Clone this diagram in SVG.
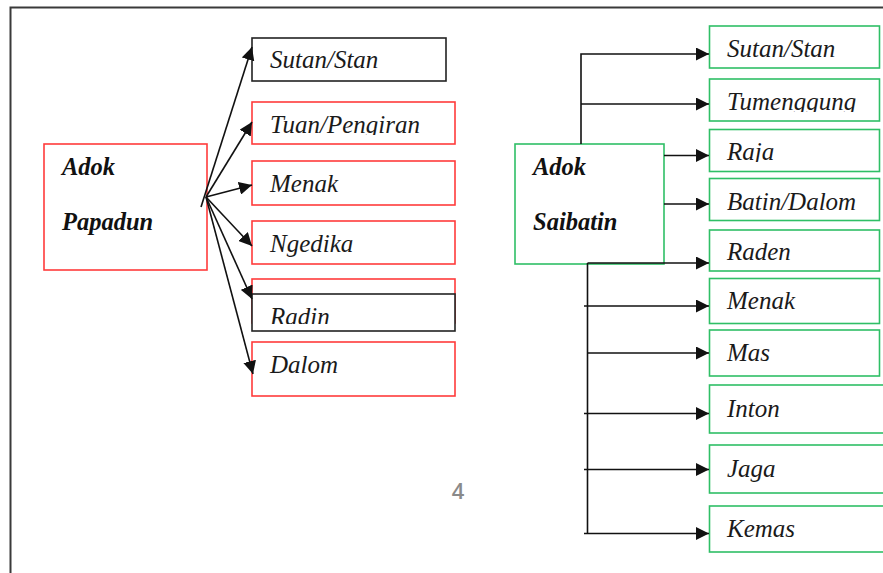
<svg xmlns="http://www.w3.org/2000/svg" width="883" height="573" viewBox="0 0 883 573">
<style>
.frame{fill:none;stroke:#3a3a3a;stroke-width:2}
.red{fill:#fff;stroke:#ff3b3b;stroke-width:1.6}
.green{fill:#fff;stroke:#2fbf66;stroke-width:1.6}
.blk{fill:#fff;stroke:#222;stroke-width:1.6}
.lbl{font-family:"Liberation Serif","Times New Roman",serif;font-style:italic;font-size:25px;fill:#1a1a1a}
.head{font-family:"Liberation Serif","Times New Roman",serif;font-style:italic;font-weight:bold;font-size:24.5px;fill:#111}
.conn{fill:none;stroke:#111;stroke-width:1.6}
.pg{font-family:"Open Sans","Liberation Sans",sans-serif;font-weight:600;font-size:22px;fill:#8a8a8a;text-anchor:middle}
</style>
<defs>
<marker id="ah" markerUnits="userSpaceOnUse" markerWidth="13" markerHeight="13" refX="13" refY="6.5" orient="auto">
<path d="M0,0 L13,6.5 L0,13 z" fill="#111"/>
</marker>
<clipPath id="cTuan"><rect x="252" y="102" width="204" height="33"/></clipPath>
<clipPath id="cTum"><rect x="709" y="79" width="171" height="33"/></clipPath>
<clipPath id="cRaja"><rect x="709" y="129" width="171" height="33"/></clipPath>
<clipPath id="cRaden"><rect x="709" y="230" width="171" height="32"/></clipPath>
<clipPath id="cRadin"><rect x="252" y="294" width="204" height="30"/></clipPath>
</defs>
<g id="frame">
<path class="frame" d="M10.5,573 V7.5 H883"/>
</g>
<g id="papadun">
<rect class="red" x="44" y="144" width="163" height="126"/>
<text class="head" x="62" y="175">Adok</text>
<text class="head" x="62" y="230">Papadun</text>
</g>
<g id="l-sutan">
<rect class="blk" x="252" y="38" width="194" height="43"/>
<text class="lbl" x="270" y="68">Sutan/Stan</text>
</g>
<g id="l-tuan">
<rect class="red" x="252" y="102" width="203" height="42"/>
<text class="lbl" x="270" y="133" clip-path="url(#cTuan)">Tuan/Pengiran</text>
</g>
<g id="l-menak">
<rect class="red" x="252" y="161" width="203" height="44"/>
<text class="lbl" x="270" y="192">Menak</text>
</g>
<g id="l-ngedika">
<rect class="red" x="252" y="221" width="203" height="43"/>
<text class="lbl" x="270" y="252">Ngedika</text>
</g>
<g id="l-radin">
<rect class="red" x="252" y="279" width="203" height="44"/>
<rect class="blk" x="252" y="294" width="203" height="37"/>
<text class="lbl" x="270" y="325" clip-path="url(#cRadin)">Radin</text>
</g>
<g id="l-dalom">
<rect class="red" x="252" y="342" width="203" height="54"/>
<text class="lbl" x="270" y="373">Dalom</text>
</g>
<g id="saibatin">
<rect class="green" x="515" y="144" width="149" height="120"/>
<text class="head" x="533" y="175">Adok</text>
<text class="head" x="533" y="230">Saibatin</text>
</g>
<g id="r-sutan">
<rect class="green" x="709.5" y="26" width="170" height="42"/>
<text class="lbl" x="727" y="57">Sutan/Stan</text>
</g>
<g id="r-tumenggung">
<rect class="green" x="709.5" y="79" width="170" height="42"/>
<text class="lbl" x="727" y="110" clip-path="url(#cTum)">Tumenggung</text>
</g>
<g id="r-raja">
<rect class="green" x="709.5" y="129.5" width="170" height="42"/>
<text class="lbl" x="727" y="160" clip-path="url(#cRaja)">Raja</text>
</g>
<g id="r-batin">
<rect class="green" x="709.5" y="178.5" width="170" height="42"/>
<text class="lbl" x="727" y="210">Batin/Dalom</text>
</g>
<g id="r-raden">
<rect class="green" x="709.5" y="230" width="170" height="41"/>
<text class="lbl" x="727" y="260" clip-path="url(#cRaden)">Raden</text>
</g>
<g id="r-menak">
<rect class="green" x="709.5" y="278.5" width="170" height="45"/>
<text class="lbl" x="727" y="309">Menak</text>
</g>
<g id="r-mas">
<rect class="green" x="709.5" y="330" width="170" height="46"/>
<text class="lbl" x="727" y="361">Mas</text>
</g>
<g id="r-inton">
<rect class="green" x="709.5" y="385" width="190" height="48"/>
<text class="lbl" x="727" y="417">Inton</text>
</g>
<g id="r-jaga">
<rect class="green" x="709.5" y="445" width="190" height="48"/>
<text class="lbl" x="727" y="477">Jaga</text>
</g>
<g id="r-kemas">
<rect class="green" x="709.5" y="506" width="190" height="46"/>
<text class="lbl" x="727" y="537">Kemas</text>
</g>
<g id="connectors">
<line class="conn" x1="201" y1="207" x2="252" y2="47" marker-end="url(#ah)"/>
<line class="conn" x1="206" y1="197" x2="252" y2="122" marker-end="url(#ah)"/>
<line class="conn" x1="206" y1="197" x2="252" y2="185" marker-end="url(#ah)"/>
<line class="conn" x1="206" y1="197" x2="252" y2="246" marker-end="url(#ah)"/>
<line class="conn" x1="206" y1="197" x2="252" y2="299" marker-end="url(#ah)"/>
<line class="conn" x1="206" y1="197" x2="253" y2="374" marker-end="url(#ah)"/>
<path class="conn" d="M581,144 V54 H709" marker-end="url(#ah)"/>
<path class="conn" d="M581,104 H709" marker-end="url(#ah)"/>
<path class="conn" d="M664,155.5 H709" marker-end="url(#ah)"/>
<path class="conn" d="M664,204 H709" marker-end="url(#ah)"/>
<path class="conn" d="M587.5,263 V533.5"/>
<path class="conn" d="M587.5,263 H709" marker-end="url(#ah)"/>
<path class="conn" d="M584,306 H709" marker-end="url(#ah)"/>
<path class="conn" d="M587.5,353 H709" marker-end="url(#ah)"/>
<path class="conn" d="M584,413.5 H709" marker-end="url(#ah)"/>
<path class="conn" d="M584,469.5 H709" marker-end="url(#ah)"/>
<path class="conn" d="M584,533.5 H709" marker-end="url(#ah)"/>
</g>
<text class="pg" x="458" y="499">4</text>
</svg>
